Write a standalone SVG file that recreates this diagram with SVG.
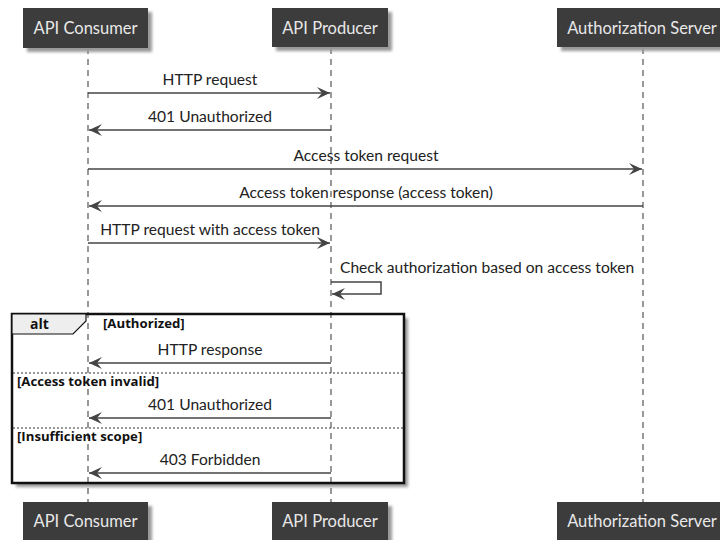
<svg xmlns="http://www.w3.org/2000/svg" width="720" height="540" viewBox="0 0 720 540">
<style>
.pbox{fill:#3c3c3c;}
.ptxt{font-family:Lato,"Open Sans","Liberation Sans",sans-serif;font-size:16.5px;fill:#e8e8e8;text-anchor:middle;}
.life{stroke:#555;stroke-width:1.2;stroke-dasharray:6,5;fill:none;}
.msg{stroke:#444;stroke-width:1.5;fill:none;}
.lbl{font-family:Lato,"Open Sans","Liberation Sans",sans-serif;font-size:15.6px;fill:#222;text-anchor:middle;}
.lbll{font-family:Lato,"Open Sans","Liberation Sans",sans-serif;font-size:15.6px;fill:#222;}
.guard{font-family:"Open Sans",Lato,"Liberation Sans",sans-serif;font-size:13.2px;font-weight:bold;fill:#111;}
.sep{stroke:#333;stroke-width:1;stroke-dasharray:2,2;}
.shadow{fill:#999;filter:url(#blur);}
</style>
<defs>
<filter id="blur" x="-10%" y="-10%" width="120%" height="130%"><feGaussianBlur stdDeviation="1.8"/></filter>
<marker id="ah" viewBox="-14 -7 15 14" refX="0" refY="0" markerWidth="15" markerHeight="14" markerUnits="userSpaceOnUse" orient="auto">
<path d="M0,0 L-13,-6 L-8,0 L-13,6 Z" fill="#444"/>
</marker>
</defs>
<rect width="720" height="540" fill="#fff"/>

<!-- alt frame shadow -->
<rect class="shadow" x="16" y="318" width="392" height="169"/>
<rect x="12" y="314" width="392" height="169" fill="#fff"/>

<g id="lifelines">
<line class="life" x1="88" y1="48" x2="88" y2="502"/>
<line class="life" x1="331" y1="48" x2="331" y2="502"/>
<line class="life" x1="643" y1="48" x2="643" y2="502"/>
</g>

<g id="participants-top">
<g id="consumer-top">
<rect class="shadow" x="27" y="12" width="125" height="40"/>
<rect class="pbox" x="23" y="8" width="125" height="40"/>
<text class="ptxt" x="85.5" y="34">API Consumer</text>
</g>
<g id="producer-top">
<rect class="shadow" x="276" y="12" width="116" height="39"/>
<rect class="pbox" x="272" y="8" width="116" height="39"/>
<text class="ptxt" x="330" y="34">API Producer</text>
</g>
<g id="auth-top">
<rect class="shadow" x="561" y="12" width="172" height="39"/>
<rect class="pbox" x="557" y="8" width="172" height="39"/>
<text class="ptxt" x="642" y="34">Authorization Server</text>
</g>
</g>

<g id="participants-bottom">
<g id="consumer-bottom">
<rect class="shadow" x="27" y="506" width="125" height="40"/>
<rect class="pbox" x="23" y="502" width="125" height="40"/>
<text class="ptxt" x="85.5" y="527">API Consumer</text>
</g>
<g id="producer-bottom">
<rect class="shadow" x="276" y="506" width="116" height="40"/>
<rect class="pbox" x="272" y="502" width="116" height="40"/>
<text class="ptxt" x="330" y="527">API Producer</text>
</g>
<g id="auth-bottom">
<rect class="shadow" x="561" y="506" width="172" height="40"/>
<rect class="pbox" x="557" y="502" width="172" height="40"/>
<text class="ptxt" x="642" y="527">Authorization Server</text>
</g>
</g>

<g id="alt">
<rect x="12" y="314" width="392" height="169" fill="none" stroke="#111" stroke-width="2.5"/>
<path d="M12,314 L86,314 L86,321 L73,334 L12,334 Z" fill="#eee" stroke="#111" stroke-width="1.2"/>
<text class="guard" x="30" y="329" style="font-size:14px">alt</text>
<text class="guard" x="103" y="328">[Authorized]</text>
<line class="sep" x1="13" y1="373" x2="403" y2="373"/>
<text class="guard" x="17" y="386">[Access token invalid]</text>
<line class="sep" x1="13" y1="428" x2="403" y2="428"/>
<text class="guard" x="17" y="441">[Insufficient scope]</text>
</g>

<g id="connectors">
<line class="msg" x1="88" y1="93" x2="330" y2="93" marker-end="url(#ah)"/>
<text class="lbl" x="210" y="85">HTTP request</text>
<line class="msg" x1="331" y1="130" x2="89" y2="130" marker-end="url(#ah)"/>
<text class="lbl" x="210" y="122">401 Unauthorized</text>
<line class="msg" x1="88" y1="169" x2="642" y2="169" marker-end="url(#ah)"/>
<text class="lbl" x="366" y="161">Access token request</text>
<line class="msg" x1="643" y1="206" x2="89" y2="206" marker-end="url(#ah)"/>
<text class="lbl" x="366" y="198">Access token response (access token)</text>
<line class="msg" x1="88" y1="243" x2="330" y2="243" marker-end="url(#ah)"/>
<text class="lbl" x="210" y="235">HTTP request with access token</text>
<path class="msg" d="M331,282 L381,282 L381,294 L332,294" marker-end="url(#ah)"/>
<text class="lbll" x="340" y="273">Check authorization based on access token</text>
<line class="msg" x1="331" y1="363" x2="89" y2="363" marker-end="url(#ah)"/>
<text class="lbl" x="210" y="355">HTTP response</text>
<line class="msg" x1="331" y1="418" x2="89" y2="418" marker-end="url(#ah)"/>
<text class="lbl" x="210" y="410">401 Unauthorized</text>
<line class="msg" x1="331" y1="473" x2="89" y2="473" marker-end="url(#ah)"/>
<text class="lbl" x="210" y="465">403 Forbidden</text>
</g>
</svg>
